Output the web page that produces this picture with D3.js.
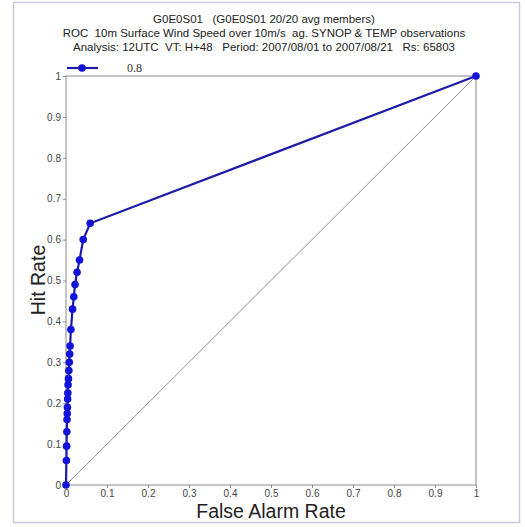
<!DOCTYPE html>
<html>
<head>
<meta charset="utf-8">
<script src="https://cdn.jsdelivr.net/npm/d3@7"></script>
<style>
  html, body { margin: 0; padding: 0; background: #fff; }
  svg { display: block; }
  text { white-space: pre; }
</style>
</head>
<body>
<svg id="chart" width="525" height="527"></svg>
<script>
// Title lines
const titleLines = [
  "G0E0S01   (G0E0S01 20/20 avg members)",
  "ROC  10m Surface Wind Speed over 10m/s  ag. SYNOP & TEMP observations",
  "Analysis: 12UTC  VT: H+48   Period: 2007/08/01 to 2007/08/21   Rs: 65803"
];
const seriesName = "0.8";

// ROC points: false alarm rate and hit rate per probability threshold
const falseAlarmRate = [1, 0.059, 0.042, 0.033, 0.027, 0.022, 0.019, 0.016, 0.012, 0.010,
  0.009, 0.008, 0.007, 0.006, 0.005, 0.0045, 0.004, 0.0035, 0.003, 0.0025, 0.002, 0.0015, 0.001, 0];
const hitRate = [1, 0.64, 0.60, 0.55, 0.52, 0.49, 0.46, 0.43, 0.38, 0.34,
  0.32, 0.30, 0.28, 0.26, 0.245, 0.225, 0.21, 0.19, 0.175, 0.16, 0.13, 0.095, 0.06, 0];

// Tick labels
const xTicks = [0, 0.1, 0.2, 0.3, 0.4, 0.5, 0.6, 0.7, 0.8, 0.9, 1];
const yTicks = [0, 0.1, 0.2, 0.3, 0.4, 0.5, 0.6, 0.7, 0.8, 0.9, 1];
const fmt = d => (d === 0 || d === 1) ? String(d) : d.toFixed(1);

const svg = d3.select("#chart");
const font = "'Liberation Sans', Arial, Helvetica, sans-serif";

// Outer frame
svg.append("rect")
  .attr("x", 13.5).attr("y", 2.5).attr("width", 506).attr("height", 520)
  .attr("fill", "#fff").attr("stroke", "#c9c9dc").attr("stroke-width", 1.5);

const plotLeft = 66, plotRight = 476, plotTop = 76, plotBottom = 485;
const x = d3.scaleLinear().domain([0, 1]).range([plotLeft, plotRight]);
const y = d3.scaleLinear().domain([0, 1]).range([plotBottom, plotTop]);

// Titles
svg.append("g").selectAll("text").data(titleLines).join("text")
  .attr("x", 264).attr("y", (d, i) => 23 + i * 14)
  .attr("text-anchor", "middle")
  .attr("font-family", font).attr("font-size", 11.5)
  .attr("fill", "#222")
  .text(d => d);

// Plot box
svg.append("rect")
  .attr("x", plotLeft).attr("y", plotTop)
  .attr("width", plotRight - plotLeft).attr("height", plotBottom - plotTop)
  .attr("fill", "none").attr("stroke", "#8a8a8a").attr("stroke-width", 1);

// Axes
const xAxis = svg.append("g").attr("transform", `translate(0,${plotBottom})`)
  .call(d3.axisBottom(x).tickValues(xTicks).tickFormat(fmt).tickSize(3).tickPadding(2));
const yAxis = svg.append("g").attr("transform", `translate(${plotLeft},0)`)
  .call(d3.axisLeft(y).tickValues(yTicks).tickFormat(fmt).tickSize(3).tickPadding(2));
[xAxis, yAxis].forEach(g => {
  g.select(".domain").remove();
  g.selectAll(".tick line").attr("stroke", "#8a8a8a");
  g.selectAll(".tick text").attr("font-family", font).attr("font-size", 10).attr("fill", "#444");
});

// Axis titles
svg.append("text")
  .attr("x", 271).attr("y", 518).attr("text-anchor", "middle")
  .attr("font-family", font).attr("font-size", 19.5).attr("fill", "#222")
  .text("False Alarm Rate");
svg.append("text")
  .attr("transform", "translate(45,280) rotate(-90)").attr("text-anchor", "middle")
  .attr("font-family", font).attr("font-size", 19.5).attr("fill", "#222")
  .text("Hit Rate");

// No-skill diagonal
svg.append("line")
  .attr("x1", x(0)).attr("y1", y(0)).attr("x2", x(1)).attr("y2", y(1))
  .attr("stroke", "#8f8f8f").attr("stroke-width", 1);

// ROC curve
const pts = falseAlarmRate.map((f, i) => ({ f, h: hitRate[i] }));
svg.append("path").datum(pts)
  .attr("fill", "none").attr("stroke", "#1c1ca8").attr("stroke-width", 2.2)
  .attr("d", d3.line().x(d => x(d.f)).y(d => y(d.h)));
svg.append("g").selectAll("circle").data(pts).join("circle")
  .attr("cx", d => x(d.f)).attr("cy", d => y(d.h)).attr("r", 3.8)
  .attr("fill", "#1212d8");

// Legend
svg.append("line").attr("x1", 67).attr("x2", 98).attr("y1", 68).attr("y2", 68)
  .attr("stroke", "#1c1ca8").attr("stroke-width", 2.2);
svg.append("circle").attr("cx", 82).attr("cy", 68).attr("r", 3.8).attr("fill", "#1212d8");
svg.append("text").attr("x", 127).attr("y", 72)
  .attr("font-family", "'Liberation Serif', 'Times New Roman', serif").attr("font-size", 12)
  .attr("fill", "#333").text(seriesName);
</script>
</body>
</html>
